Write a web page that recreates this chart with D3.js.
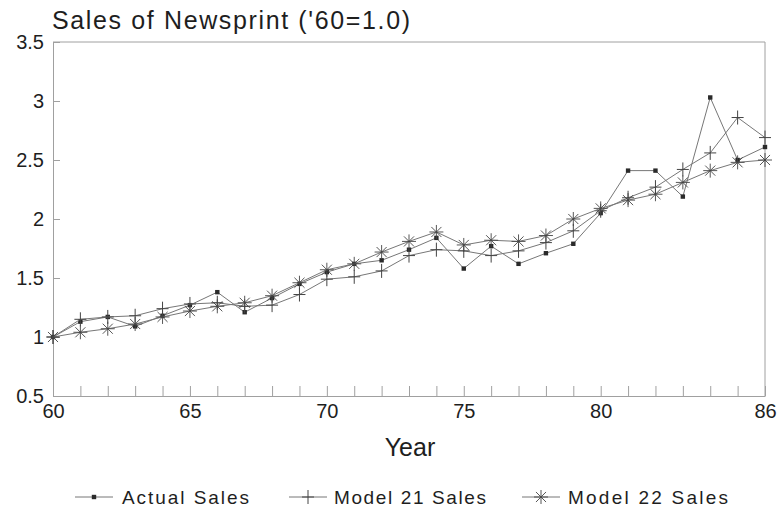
<!DOCTYPE html>
<html>
<head>
<meta charset="utf-8">
<script src="https://cdn.jsdelivr.net/npm/d3@7"></script>
<style>
  html, body { margin: 0; padding: 0; background: #fff; }
  svg { display: block; font-family: "Liberation Sans", Arial, sans-serif; }
</style>
</head>
<body>
<svg id="chart" width="778" height="512"></svg>
<script>
// Newsprint sales index, 1960 = 1.0
const years = d3.range(60, 87);
const actualSales = [1.00, 1.13, 1.17, 1.09, 1.18, 1.27, 1.38, 1.21, 1.33, 1.45, 1.55, 1.62, 1.65, 1.74, 1.84, 1.58, 1.77, 1.62, 1.71, 1.79, 2.05, 2.41, 2.41, 2.19, 3.03, 2.50, 2.61];
const model21Sales = [1.00, 1.15, 1.17, 1.18, 1.24, 1.28, 1.29, 1.26, 1.27, 1.36, 1.49, 1.51, 1.56, 1.69, 1.74, 1.73, 1.69, 1.73, 1.80, 1.90, 2.07, 2.18, 2.27, 2.42, 2.56, 2.86, 2.69];
const model22Sales = [1.00, 1.04, 1.07, 1.11, 1.17, 1.22, 1.26, 1.29, 1.35, 1.46, 1.57, 1.62, 1.72, 1.81, 1.89, 1.78, 1.82, 1.81, 1.86, 2.00, 2.09, 2.16, 2.21, 2.31, 2.41, 2.48, 2.50];
const yTicks = [0.5, 1, 1.5, 2, 2.5, 3, 3.5];
const xLabels = [60, 65, 70, 75, 80, 86];
const seriesNames = ["Actual Sales", "Model 21 Sales", "Model 22 Sales"];

const svg = d3.select("#chart");
const plotLeft = 53, plotRight = 765, plotTop = 42, plotBottom = 396;

const x = d3.scaleLinear().domain([60, 86]).range([plotLeft, plotRight]);
const y = d3.scaleLinear().domain([0.5, 3.5]).range([plotBottom, plotTop]);

const lineColor = "#777";
const markColor = "#444";
const frameColor = "#a0a0a0";
const textColor = "#1e1e1e";

// frame (top and right edges)
svg.append("line").attr("x1", plotLeft).attr("x2", plotRight).attr("y1", plotTop).attr("y2", plotTop)
  .attr("stroke", frameColor).attr("stroke-width", 1);
svg.append("line").attr("x1", plotRight).attr("x2", plotRight).attr("y1", plotTop).attr("y2", plotBottom)
  .attr("stroke", frameColor).attr("stroke-width", 1);

// y axis
const yAxis = svg.append("g").attr("transform", `translate(${plotLeft},0)`)
  .call(d3.axisLeft(y).tickValues(yTicks).tickFormat(d3.format("")).tickSizeInner(-7).tickSizeOuter(0).tickPadding(9));
yAxis.select(".domain").attr("stroke", frameColor);
yAxis.selectAll(".tick line").attr("stroke", frameColor);
yAxis.selectAll("text").attr("font-size", 20).attr("fill", textColor).attr("font-family", "Liberation Sans, Arial, sans-serif");

// x axis
const xAxis = svg.append("g").attr("transform", `translate(0,${plotBottom})`)
  .call(d3.axisBottom(x).tickValues(years).tickFormat(d => xLabels.includes(d) ? d : "").tickSizeInner(-10).tickSizeOuter(0).tickPadding(8));
xAxis.select(".domain").attr("stroke", frameColor);
xAxis.selectAll(".tick line").attr("stroke", frameColor);
xAxis.selectAll("text").attr("font-size", 20).attr("fill", textColor).attr("font-family", "Liberation Sans, Arial, sans-serif");

// title and axis title
svg.append("text").attr("x", 52).attr("y", 29).attr("font-size", 25).attr("fill", textColor)
  .attr("textLength", 358).attr("lengthAdjust", "spacing")
  .text("Sales of Newsprint ('60=1.0)");
svg.append("text").attr("x", 410).attr("y", 456).attr("text-anchor", "middle").attr("font-size", 25)
  .attr("fill", textColor).text("Year");

// marker painters
function drawSquare(g, cx, cy) {
  g.append("rect").attr("x", cx - 2.2).attr("y", cy - 2.2).attr("width", 4.4).attr("height", 4.4).attr("fill", "#2a2a2a");
}
function drawPlus(g, cx, cy) {
  g.append("path").attr("d", `M${cx - 6},${cy}H${cx + 6}M${cx},${cy - 7}V${cy + 7}`)
    .attr("stroke", markColor).attr("stroke-width", 1).attr("fill", "none");
}
function drawStar(g, cx, cy) {
  const r = 7, d = r * 0.72;
  g.append("path").attr("d",
    `M${cx - r},${cy}H${cx + r}M${cx},${cy - r}V${cy + r}M${cx - d},${cy - d}L${cx + d},${cy + d}M${cx - d},${cy + d}L${cx + d},${cy - d}`)
    .attr("stroke", markColor).attr("stroke-width", 0.9).attr("fill", "none");
}

const series = [
  { name: seriesNames[0], values: actualSales, marker: drawSquare },
  { name: seriesNames[1], values: model21Sales, marker: drawPlus },
  { name: seriesNames[2], values: model22Sales, marker: drawStar }
];

const line = d3.line().x((d, i) => x(years[i])).y(d => y(d));

series.forEach(s => {
  const g = svg.append("g");
  g.append("path").datum(s.values).attr("d", line)
    .attr("fill", "none").attr("stroke", lineColor).attr("stroke-width", 1);
  s.values.forEach((v, i) => s.marker(g, x(years[i]), y(v)));
});

// legend
const legendY = 497;
const legendItems = [
  { lx: 75, tx: 122, tw: 127 },
  { lx: 289, tx: 334, tw: 152 },
  { lx: 522, tx: 568, tw: 160 }
];
series.forEach((s, i) => {
  const it = legendItems[i];
  const g = svg.append("g");
  g.append("line").attr("x1", it.lx).attr("x2", it.lx + 38).attr("y1", legendY).attr("y2", legendY)
    .attr("stroke", lineColor).attr("stroke-width", 1);
  s.marker(g, it.lx + 19, legendY);
  g.append("text").attr("x", it.tx).attr("y", legendY + 7).attr("font-size", 19).attr("fill", textColor)
    .attr("textLength", it.tw).attr("lengthAdjust", "spacing").text(s.name);
});
</script>
</body>
</html>
